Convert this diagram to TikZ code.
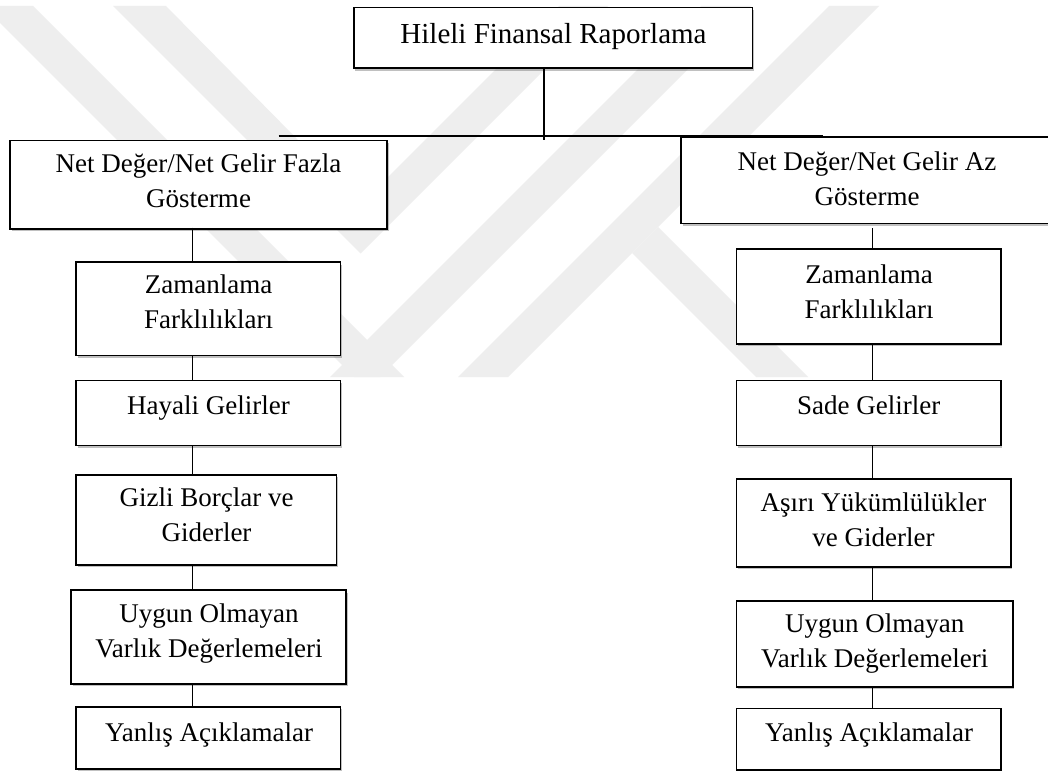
\documentclass[tikz,border=0pt]{standalone}
\usepackage{fontspec}
\setmainfont{Liberation Serif}
\usetikzlibrary{shadows,calc}
\definecolor{wm}{RGB}{238,238,238}
\tikzset{
  box/.style={draw=black, fill=white, line width=1.8pt, rectangle, inner sep=0pt,
    drop shadow={shadow xshift=1.8pt, shadow yshift=-2.6pt, opacity=0.35, fill=black!70}},
  lbl/.style={inner sep=0pt, align=center, font=\fontsize{27}{35}\selectfont,
    execute at begin node=\strut, execute at end node=\strut},
  ttl/.style={lbl, font=\fontsize{29}{37}\selectfont},
  conn/.style={draw=black, line width=1.3pt},
}
\begin{document}
\begin{tikzpicture}[x=1pt,y=-1pt]
\path[use as bounding box, fill=white] (0,0) rectangle (1048,770);
% watermark
\begin{scope}
\clip (0,6) rectangle (1048,377);
\fill[wm] (-17,6) -- (33,6) -- (404,377) -- (354,377) -- cycle;
\fill[wm] (330,377) -- (380,377) -- (751,6) -- (701,6) -- cycle;
\fill[wm] (458,377) -- (508,377) -- (879,6) -- (829,6) -- cycle;
\fill[wm] (113,6) -- (166,6) -- (361,204) -- (559,6) -- (608,6) -- (360.5,253.5) -- cycle;
\fill[wm] (632,253) -- (658,227) -- (808,377) -- (756,377) -- cycle;
\end{scope}
% boxes
\node[box, minimum width=398.8pt, minimum height=60.5pt] (top) at (553,37.75) {};
\node[box, minimum width=376.7pt, minimum height=88.2pt] (lnet) at (198.35,184.6) {};
\node[box, minimum width=372pt, minimum height=86.4pt] (rnet) at (867,180.2) {};
\node[box, minimum width=264.6pt, minimum height=93.6pt] (lzam) at (208.2,308.7) {};
\node[box, minimum width=264.2pt, minimum height=94.8pt] (rzam) at (868.5,296.4) {};
\node[box, minimum width=264.6pt, minimum height=65pt] (lhay) at (208.2,413) {};
\node[box, minimum width=264.2pt, minimum height=65pt] (rsade) at (868.5,413) {};
\node[box, minimum width=260.6pt, minimum height=90pt] (lgiz) at (206.2,519.6) {};
\node[box, minimum width=274.2pt, minimum height=88pt] (rasiri) at (873.5,522.6) {};
\node[box, minimum width=274.8pt, minimum height=93.4pt] (luyg) at (208.6,637) {};
\node[box, minimum width=276.2pt, minimum height=86pt] (ruyg) at (874.5,643.7) {};
\node[box, minimum width=264.6pt, minimum height=61.9pt] (lyan) at (208.2,737.65) {};
\node[box, minimum width=264.2pt, minimum height=61.2pt] (ryan) at (868.5,739) {};
% connector guides
\coordinate (lx) at (192.3,0);
\coordinate (rx) at (872.8,0);
\coordinate (tj) at (544,140.5);
\coordinate (hl) at (278.5,136);
\coordinate (hr) at (822.6,136);
% connectors
\draw[conn] (top.south -| tj) -- (tj);
\draw[conn, line width=1.5pt] (hl) -- (hr);
\draw[conn] ([yshift=2pt]lnet.south -| lx) -- (lzam.north -| lx);
\draw[conn] (lzam.south -| lx) -- (lhay.north -| lx);
\draw[conn] (lhay.south -| lx) -- (lgiz.north -| lx);
\draw[conn] (lgiz.south -| lx) -- (luyg.north -| lx);
\draw[conn] (luyg.south -| lx) -- (lyan.north -| lx);
\draw[conn] ([yshift=-4pt]rnet.south -| rx) -- (rzam.north -| rx);
\draw[conn] (rzam.south -| rx) -- (rsade.north -| rx);
\draw[conn] (rsade.south -| rx) -- (rasiri.north -| rx);
\draw[conn] (rasiri.south -| rx) -- (ruyg.north -| rx);
\draw[conn] (ruyg.south -| rx) -- (ryan.north -| rx);
% texts
\node[ttl] (topt) at (553.5,36.1) {Hileli Finansal Raporlama};
\node[lbl] (lnett) at (198.5,186.1) {Net Değer/Net Gelir Fazla\\Gösterme};
\node[lbl] (rnett) at (867,183.4) {Net Değer/Net Gelir Az\\Gösterme};
\node[lbl] (lzamt) at (208.5,307.1) {Zamanlama\\Farklılıkları};
\node[lbl] (rzamt) at (869,296.5) {Zamanlama\\Farklılıkları};
\node[lbl] (lhayt) at (208.5,407.4) {Hayali Gelirler};
\node[lbl] (rsadet) at (868.8,407.4) {Sade Gelirler};
\node[lbl] (lgizt) at (206.5,519.9) {Gizli Borçlar ve\\Giderler};
\node[lbl] (rasirit) at (873.5,524.9) {Aşırı Yükümlülükler\\ve Giderler};
\node[lbl] (luygt) at (209,635.6) {Uygun Olmayan\\Varlık Değerlemeleri};
\node[lbl] (ruygt) at (874.8,645.7) {Uygun Olmayan\\Varlık Değerlemeleri};
\node[lbl] (lyant) at (209,734) {Yanlış Açıklamalar};
\node[lbl] (ryant) at (869.1,734.9) {Yanlış Açıklamalar};
\end{tikzpicture}
\end{document}
